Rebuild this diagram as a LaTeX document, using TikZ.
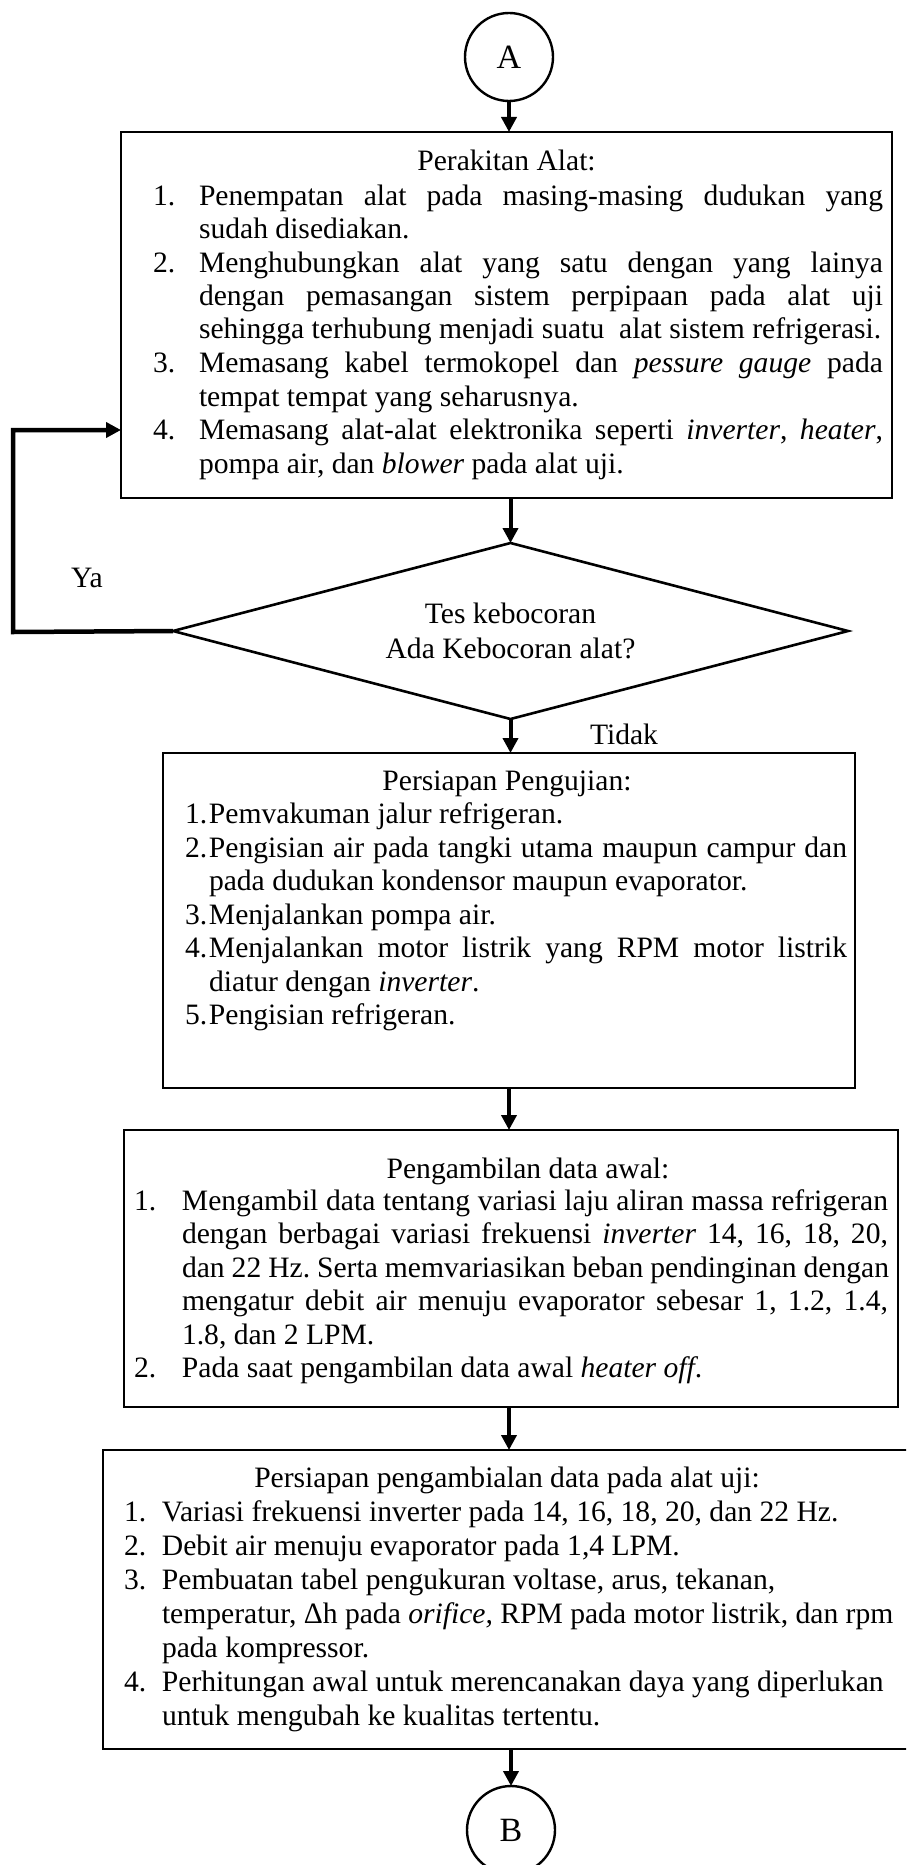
\documentclass[tikz,border=0pt]{standalone}
\usepackage{fontspec}
\setmainfont{Liberation Serif}
\usetikzlibrary{arrows.meta,shapes.geometric}
\frenchspacing
\hyphenpenalty=10000
\exhyphenpenalty=50
\tolerance=9999
\newcommand{\nitem}[3]{\par\noindent\hangindent=#1\hangafter=1\hbox to #1{\strut#2\hfil}#3}
\newcommand{\jst}{\spaceskip=0pt\xspaceskip=0pt\leftskip=0pt\rightskip=0pt minus 6pt\parfillskip=0pt plus 1fil\relax}
\newcommand{\rgd}{\spaceskip=0pt\xspaceskip=0pt\leftskip=0pt\rightskip=0pt plus 1fil\parfillskip=0pt plus 1fil\relax}
\begin{document}
\begin{tikzpicture}[x=1pt,y=-1pt,
  every node/.style={inner sep=0pt,outer sep=0pt,font=\fontsize{29.6}{33.5}\selectfont},
  boxc/.style={draw,line width=2.6pt,rectangle},
  conn/.style={draw,line width=2.4pt,circle,minimum size=88pt,font=\fontsize{34}{40}\selectfont},
  decis/.style={draw,line width=2.6pt,diamond,aspect=3.8,minimum width=675pt,minimum height=176pt,align=center},
  arr/.style={line width=4pt,-{Triangle[length=15pt,width=15pt]}},
  loopl/.style={line width=4.5pt,-{Triangle[length=15pt,width=15pt]}},
  body/.style={anchor=north west},
  ttl/.style={anchor=base}]
\useasboundingbox (0,0) rectangle (906,1865);
\fill[white] (0,0) rectangle (906,1865);
\clip (0,0) rectangle (906,1865);

% connectors A and B
\node[conn] (A) at (509,57) {A};
\node[conn] (B) at (511,1830) {B};

% box 1
\node[boxc,minimum width=771pt,minimum height=366pt] (box1) at (506.5,315) {};
\node[ttl] (t1) at (506.5,170) {Perakitan Alat:};
\node[body,text width=730pt] (b1) at (153,171.5) {\jst
\nitem{46pt}{1.}{Penempatan alat pada masing-masing dudukan yang\linebreak sudah disediakan.}
\nitem{46pt}{2.}{Menghubungkan alat yang satu dengan yang lainya\linebreak dengan pemasangan sistem perpipaan pada alat uji\linebreak sehingga terhubung menjadi suatu\ \ alat sistem refrigerasi.}
\nitem{46pt}{3.}{Memasang kabel termokopel dan \textit{pessure gauge} pada\linebreak tempat tempat yang seharusnya.}
\nitem{46pt}{4.}{Memasang alat-alat elektronika seperti \textit{inverter}, \textit{heater},\linebreak pompa air, dan \textit{blower} pada alat uji.}\par};

% decision
\node[decis] (dia) at (510.5,631) {Tes kebocoran\\[1.5pt]Ada Kebocoran alat?};
\node[ttl] (ya) at (87,587) {Ya};
\node[ttl] (tidak) at (624,744) {Tidak};

% box 2
\node[boxc,minimum width=692pt,minimum height=335pt] (box2) at (509,920.5) {};
\node[ttl] (t2) at (507,790) {Persiapan Pengujian:};
\node[body,text width=662pt] (b2) at (185,790) {\jst
\nitem{24pt}{1.}{Pemvakuman jalur refrigeran.}
\nitem{24pt}{2.}{Pengisian air pada tangki utama maupun campur dan\linebreak pada dudukan kondensor maupun evaporator.}
\nitem{24pt}{3.}{Menjalankan pompa air.}
\nitem{24pt}{4.}{Menjalankan motor listrik yang RPM motor listrik\linebreak diatur dengan \textit{inverter}.}
\nitem{24pt}{5.}{Pengisian refrigeran.}\par};

% box 3
\node[boxc,minimum width=774pt,minimum height=277pt] (box3) at (511,1268.5) {};
\node[ttl] (t3) at (528,1178) {Pengambilan data awal:};
\node[body,text width=754pt] (b3) at (134,1176.5) {\jst
\nitem{48pt}{1.}{Mengambil data tentang variasi laju aliran massa refrigeran\linebreak dengan berbagai variasi frekuensi \textit{inverter} 14, 16, 18, 20,\linebreak dan 22 Hz. Serta memvariasikan beban pendinginan dengan\linebreak mengatur debit air menuju evaporator sebesar 1, 1.2, 1.4,\linebreak 1.8, dan 2 LPM.}
\nitem{48pt}{2.}{Pada saat pengambilan data awal \textit{heater off}.}\par};

% box 4
\node[boxc,minimum width=830pt,minimum height=299pt] (box4) at (518,1599.5) {};
\node[ttl] (t4) at (507,1487) {Persiapan pengambialan data pada alat uji:};
\node[body,text width=790pt,font=\fontsize{29.6}{34}\selectfont] (b4) at (124,1487) {\rgd
\nitem{38pt}{1.}{Variasi frekuensi inverter pada 14, 16, 18, 20, dan 22 Hz.}
\nitem{38pt}{2.}{Debit air menuju evaporator pada 1,4 LPM.}
\nitem{38pt}{3.}{Pembuatan tabel pengukuran voltase, arus, tekanan,\newline temperatur, Δh pada \textit{orifice,} RPM pada motor listrik, dan rpm\newline pada kompressor.}
\nitem{38pt}{4.}{Perhitungan awal untuk merencanakan daya yang diperlukan\newline untuk mengubah ke kualitas tertentu.}\par};

% connectors
\coordinate (lp) at (13,632);
\coordinate (lq) at (13,430);
\draw[arr] (A.south) -- (A.south |- box1.north);
\draw[arr] (box1.south -| dia.north) -- (dia.north);
\draw[arr] (dia.south) -- (dia.south |- box2.north);
\draw[arr] (box2.south) -- (box2.south |- box3.north);
\draw[arr] (box3.south -| box2.south) -- (box2.south |- box4.north);
\draw[arr] (box4.south -| B.north) -- (B.north);
\draw[loopl] (dia.west) -- (lp) -- (lq) -- (lq -| box1.west);
\end{tikzpicture}
\end{document}
